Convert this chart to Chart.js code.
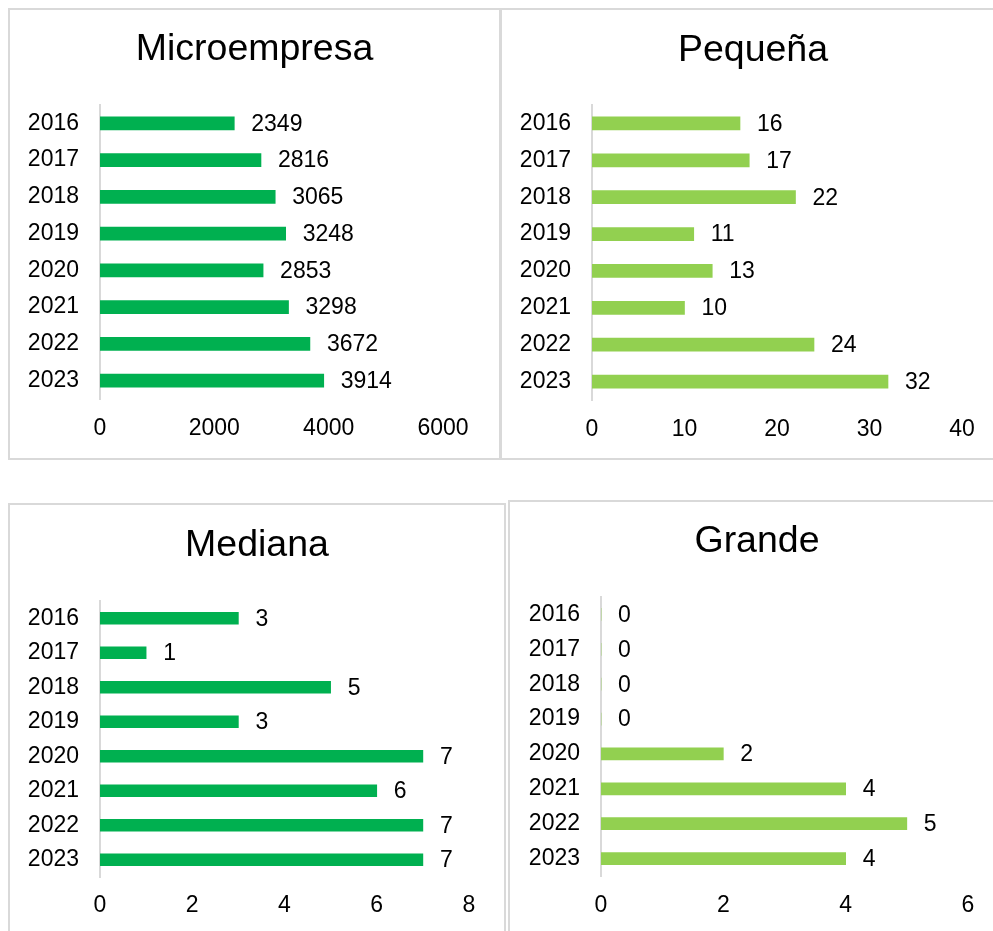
<!DOCTYPE html>
<html>
<head>
<meta charset="utf-8">
<script src="https://cdn.jsdelivr.net/npm/chart.js@4"></script>
<style>
  html, body { margin: 0; padding: 0; background: #fff; overflow: hidden; width: 993px; height: 931px; }
  .panel { position: absolute; box-sizing: border-box; border: 2px solid #d9d9d9; background: #fff; }
  canvas { position: absolute; }
</style>
</head>
<body>
<div class="panel" style="left:8px;top:8px;width:493px;height:452px;"></div>
<div class="panel" style="left:500px;top:8px;width:600px;height:452px;"></div>
<div class="panel" style="left:8px;top:503px;width:498px;height:600px;"></div>
<div class="panel" style="left:508px;top:500px;width:600px;height:600px;"></div>

<canvas id="c1" width="489" height="448" style="left:10px;top:10px;"></canvas>
<canvas id="c2" width="502" height="448" style="left:502px;top:10px;"></canvas>
<canvas id="c3" width="494" height="426" style="left:10px;top:505px;"></canvas>
<canvas id="c4" width="494" height="429" style="left:510px;top:502px;"></canvas>

<script>
// ---- Data ----
const years = ["2016", "2017", "2018", "2019", "2020", "2021", "2022", "2023"];
const microempresa = [2349, 2816, 3065, 3248, 2853, 3298, 3672, 3914];
const pequena = [16, 17, 22, 11, 13, 10, 24, 32];
const mediana = [3, 1, 5, 3, 7, 6, 7, 7];
const grande = [0, 0, 0, 0, 2, 4, 5, 4];
const titles = ["Microempresa", "Pequeña", "Mediana", "Grande"];
const axisMax = [6000, 40, 8, 6];
const axisStep = [2000, 10, 2, 2];

const DARK = "#00B050";
const LIGHT = "#92D050";
const FONT = "'Liberation Sans', Arial, Helvetica, sans-serif";

Chart.defaults.font.family = FONT;
Chart.defaults.color = "#000";

const valueLabels = {
  id: "valueLabels",
  afterDatasetsDraw(chart) {
    const ctx = chart.ctx;
    ctx.save();
    ctx.font = "23px " + FONT;
    ctx.fillStyle = "#000";
    ctx.textAlign = "left";
    ctx.textBaseline = "middle";
    const meta = chart.getDatasetMeta(0);
    const data = chart.data.datasets[0].data;
    meta.data.forEach((bar, i) => {
      ctx.fillText(String(data[i]), bar.x + 17, bar.y + 1);
    });
    ctx.restore();
  }
};

function makeChart(id, title, values, color, max, step, g) {
  return new Chart(document.getElementById(id), {
    type: "bar",
    data: {
      labels: years,
      datasets: [{
        data: values,
        backgroundColor: color,
        borderWidth: 0,
        barThickness: g.bar
      }]
    },
    options: {
      indexAxis: "y",
      responsive: false,
      animation: false,
      devicePixelRatio: 1,
      layout: { padding: 0 },
      plugins: {
        legend: { display: false },
        tooltip: { enabled: false },
        title: {
          display: true,
          text: title,
          color: "#000",
          font: { size: 37.5, weight: "normal", family: FONT },
          padding: { top: g.tTop, bottom: g.tBottom }
        }
      },
      scales: {
        x: {
          min: 0,
          max: max,
          ticks: { stepSize: step, font: { size: 23 }, color: "#000", padding: g.xPad, maxRotation: 0,
                   callback: (v) => String(v) },
          grid: { display: false, drawTicks: false },
          border: { display: false },
          afterFit(scale) { scale.height = g.xH; }
        },
        y: {
          ticks: { font: { size: 23 }, color: "#000", padding: 21 },
          grid: { display: false, drawTicks: false },
          border: { display: true, color: "#d9d9d9", width: 2 },
          afterFit(scale) { scale.width = g.yW; }
        },
        yRight: {
          type: "category",
          position: "right",
          labels: years,
          ticks: { display: false },
          grid: { display: false, drawTicks: false },
          border: { display: false },
          afterFit(scale) { scale.width = g.right; }
        }
      }
    },
    plugins: [valueLabels]
  });
}

makeChart("c1", titles[0], microempresa, DARK, axisMax[0], axisStep[0],
  { right: 56, tTop: 17.5, tBottom: 32.5, xH: 59, yW: 90, xPad: 16, bar: 13 });
makeChart("c2", titles[1], pequena, LIGHT, axisMax[1], axisStep[1],
  { right: 42, tTop: 18.5, tBottom: 31.5, xH: 58, yW: 90, xPad: 16, bar: 13 });
makeChart("c3", titles[2], mediana, DARK, axisMax[2], axisStep[2],
  { right: 35, tTop: 18.5, tBottom: 32.5, xH: 54, yW: 90, xPad: 15, bar: 12 });
makeChart("c4", titles[3], grande, LIGHT, axisMax[3], axisStep[3],
  { right: 36, tTop: 17.5, tBottom: 32.5, xH: 55, yW: 91, xPad: 16, bar: 12 });
</script>
</body>
</html>
